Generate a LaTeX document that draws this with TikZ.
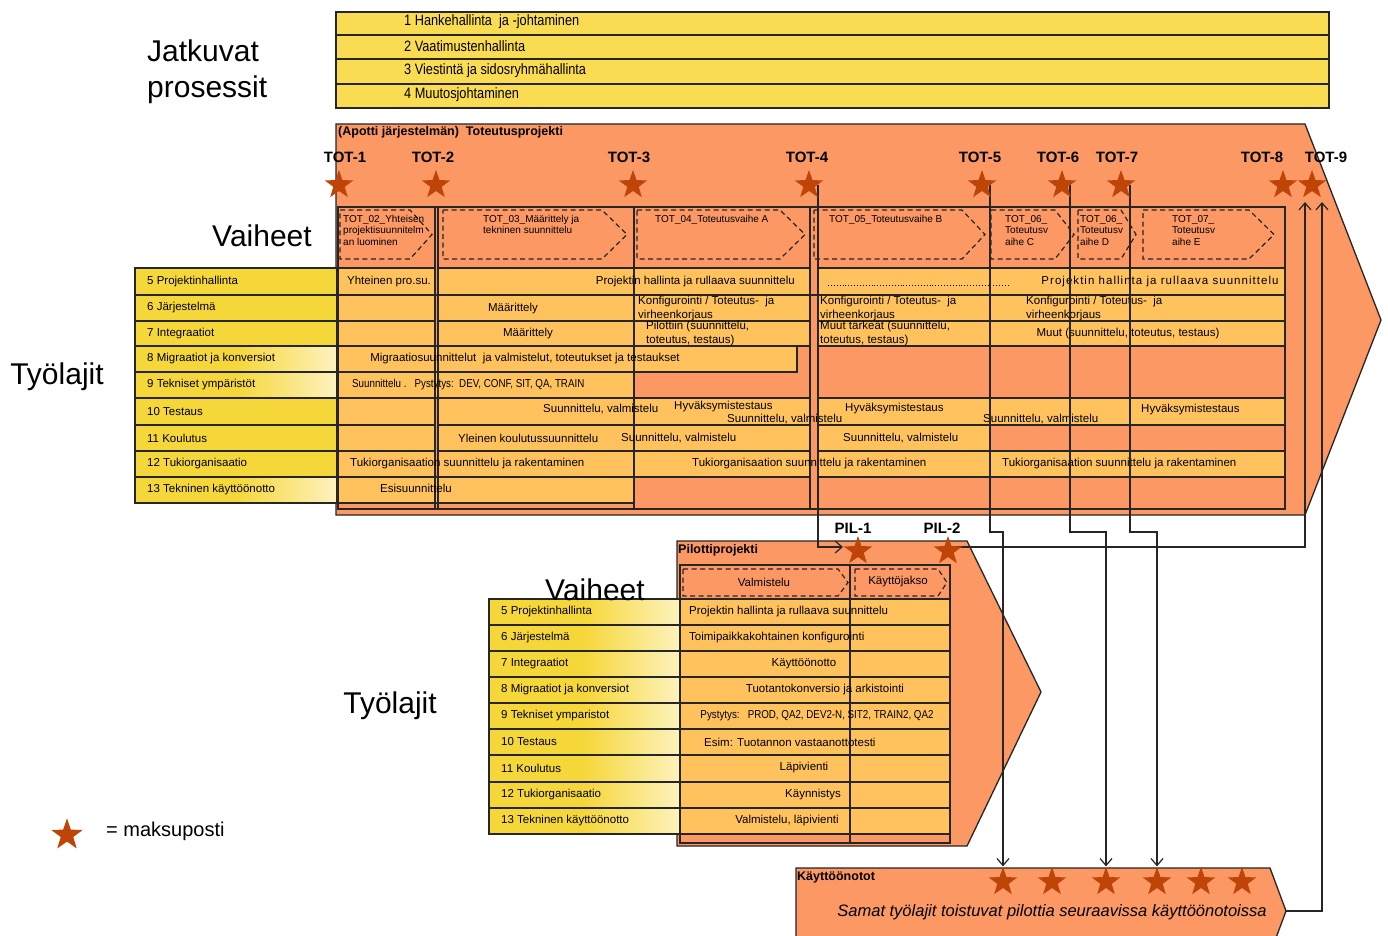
\documentclass[tikz,border=0pt]{standalone}
\usepackage{fontspec}
\setmainfont{Liberation Sans}
\newfontfamily\narrowfont[FakeStretch=0.85]{Liberation Sans}
\newfontfamily\spacedfont[LetterSpace=9]{Liberation Sans}
\usetikzlibrary{shapes.geometric,arrows.meta}
\pgfdeclarelayer{fg}
\pgfsetlayers{main,fg}
\definecolor{salmon}{RGB}{252,152,100}
\definecolor{cellor}{RGB}{255,194,92}
\definecolor{baryel}{RGB}{249,220,82}
\definecolor{lblyel}{RGB}{246,215,58}
\definecolor{lblpale}{RGB}{253,242,190}
\definecolor{starc}{RGB}{190,68,8}
\newcommand{\mychev}[5]{\draw[chevst] (#1,#4) -- (#2,#4) -- (#3,{(#4+#5)/2}) -- (#2,#5) -- (#1,#5) -- cycle;}
\newcommand{\mycell}[4]{\draw[cellst] (#1,#2) rectangle (#3,#4);}
\tikzset{
  shp/.style={draw=black!85, line width=1.3pt, fill=salmon},
  bar/.style={draw=black!85, line width=1.3pt, fill=baryel},
  lbl/.style={draw=black!85, line width=1.2pt, fill=lblyel},
  lblf/.style={draw=black!85, line width=1.2pt, left color=lblyel, right color=lblpale, middle color=lblyel},
  cellst/.style={draw=black!85, line width=1.2pt, fill=cellor},
  div/.style={draw=black!85, line width=1.3pt},
  chevst/.style={draw=black!85, line width=1.2pt, dash pattern=on 5pt off 3.5pt},
  conn/.style={draw=black!85, line width=1.2pt, -{Straight Barb[length=7pt,width=12pt]}},
  mstar/.style={star, star points=5, star point ratio=2.5, minimum size=30pt, inner sep=0pt, fill=starc, draw=none},
  big/.style={font=\fontsize{30}{36}\selectfont, inner sep=0pt},
  bartxt/.style={font=\narrowfont\fontsize{15}{17}\selectfont, inner sep=0pt, anchor=west},
  lab/.style={font=\fontsize{11.5}{13}\selectfont, inner sep=0pt, anchor=west},
  txt/.style={font=\fontsize{11.5}{13}\selectfont, inner sep=0pt},
  txtw/.style={txt, anchor=west},
  txt2/.style={font=\fontsize{11.5}{13.5}\selectfont, inner sep=0pt, anchor=north west, align=left},
  ntxt/.style={font=\narrowfont\fontsize{11.5}{13}\selectfont, inner sep=0pt},
  chevtxt/.style={font=\fontsize{10}{11.5}\selectfont, inner sep=0pt, anchor=north west, align=left},
  ttl/.style={font={\bfseries\fontsize{12.5}{14}\selectfont}, inner sep=0pt, anchor=west},
  totlab/.style={font={\bfseries\fontsize{15}{17}\selectfont}, inner sep=0pt},
}
\begin{document}
\begin{tikzpicture}[x=1pt,y=-1pt]
\useasboundingbox (0,0) rectangle (1388,936);
\fill[white] (0,0) rectangle (1388,936);
\coordinate (jy) at (0,532);

% ---------- stars (foreground layer) ----------
\begin{pgfonlayer}{fg}
\foreach \n/\x in {t1/339,t2/436,t3/633,t4/809,t5/982,t6/1062,t7/1121,t8/1283,t9/1312}
  \node[mstar] (\n) at (\x,185) {};
\node[mstar] (p1) at (858,551) {};
\node[mstar] (p2) at (948,551) {};
\foreach \n/\x in {k1/1003,k2/1052,k3/1106,k4/1157,k5/1201,k6/1242}
  \node[mstar] (\n) at (\x,882) {};
\node[mstar, minimum size=33pt] (ls) at (67,835) {};
\end{pgfonlayer}

% ---------- continuing processes ----------
\foreach \ya/\yb in {12/35,35/59,59/84,84/108}
  \draw[bar] (336,\ya) rectangle (1329,\yb);
\node[bartxt] (b1) at (404,22) {1 Hankehallinta\ \ ja -johtaminen};
\node[bartxt] (b2) at (404,46) {2 Vaatimustenhallinta};
\node[bartxt] (b3) at (404,71) {3 Viestintä\ ja sidosryhmähallinta};
\node[bartxt] (b4) at (404,95) {4 Muutosjohtaminen};
\node[big, anchor=north west, align=left] (jp) at (147,40) {Jatkuvat\\prosessit};

\node[big] (vh1) at (262,236) {Vaiheet};
\node[big] (ty1) at (57,377) {Työlajit};

% ---------- main project arrow ----------
\draw[shp] (336,124) -- (1305,124) -- (1381,320) -- (1305,515) -- (336,515) -- cycle;
\node[ttl] (tp) at (338,132) {(Apotti järjestelmän)\ \ Toteutusprojekti};
\foreach \n/\x/\t in {l1/345/TOT-1,l2/433/TOT-2,l3/629/TOT-3,l4/807/TOT-4,l5/980/TOT-5,l6/1058/TOT-6,l7/1117/TOT-7,l8/1262/TOT-8,l9/1326/TOT-9}
  \node[totlab] (\n) at (\x,157) {\t};

% label column
\draw[lbl]  (135,268) rectangle (337,295);
\draw[lbl]  (135,295) rectangle (337,321);
\draw[lbl]  (135,321) rectangle (337,346);
\draw[lblf] (135,346) rectangle (337,372);
\draw[lblf] (135,372) rectangle (337,398);
\draw[lbl]  (135,398) rectangle (337,425);
\draw[lbl]  (135,425) rectangle (337,451);
\draw[lbl]  (135,451) rectangle (337,477);
\draw[lblf] (135,477) rectangle (337,503);
\node[lab] (m5) at (147,282) {5 Projektinhallinta};
\node[lab] (m6) at (147,308) {6 Järjestelmä};
\node[lab] (m7) at (147,334) {7 Integraatiot};
\node[lab] (m8) at (147,359) {8 Migraatiot\ ja konversiot};
\node[lab] (m9) at (147,385) {9 Tekniset ympäristöt};
\node[lab] (m10) at (147,412) {10 Testaus};
\node[lab] (m11) at (147,438) {11 Koulutus};
\node[lab] (m12) at (147,464) {12 Tukiorganisaatio};
\node[lab] (m13) at (147,490) {13 Tekninen käyttöönotto};

% data cells
\mycell{337}{268}{435}{295}\mycell{438}{268}{810}{295}\mycell{818}{268}{1285}{295}
\mycell{337}{295}{435}{321}\mycell{438}{295}{634}{321}\mycell{634}{295}{810}{321}\mycell{818}{295}{1285}{321}
\mycell{337}{321}{435}{346}\mycell{438}{321}{634}{346}\mycell{634}{321}{810}{346}\mycell{818}{321}{1285}{346}
\mycell{337}{346}{797}{372}
\mycell{337}{372}{634}{398}
\mycell{337}{398}{435}{425}\mycell{438}{398}{810}{425}\mycell{818}{398}{1285}{425}
\mycell{337}{425}{435}{451}\mycell{438}{425}{810}{451}\mycell{818}{425}{990}{451}
\mycell{337}{451}{435}{477}\mycell{438}{451}{634}{477}\mycell{634}{451}{810}{477}\mycell{818}{451}{1285}{477}
\mycell{337}{477}{634}{503}
\draw[line width=2.4pt, black!85] (135,295) -- (1285,295);

% inner box and dividers
\draw[div] (338,207) rectangle (1285,509);
\foreach \x in {435,438,634,810}
  \draw[div] (\x,207) -- (\x,509);

% phases
\mychev{340}{410}{432}{210}{259}
\mychev{443}{602}{627}{210}{259}
\mychev{637}{780}{805}{210}{259}
\mychev{814}{962}{985}{210}{259}
\mychev{991}{1055}{1074}{210}{259}
\mychev{1078}{1121}{1136}{210}{259}
\mychev{1143}{1249}{1274}{210}{259}
\node[chevtxt] (c2) at (343,215) {TOT\_02\_Yhteisen\\projektisuunnitelm\\an luominen};
\node[chevtxt] (c3) at (483,215) {TOT\_03\_Määrittely ja\\tekninen suunnittelu};
\node[chevtxt] (c4) at (655,215) {TOT\_04\_Toteutusvaihe A};
\node[chevtxt] (c5) at (829,215) {TOT\_05\_Toteutusvaihe B};
\node[chevtxt] (c6) at (1005,215) {TOT\_06\_\\Toteutusv\\aihe C};
\node[chevtxt] (c7) at (1080,215) {TOT\_06\_\\Toteutusv\\aihe D};
\node[chevtxt] (c8) at (1172,215) {TOT\_07\_\\Toteutusv\\aihe E};

% row texts
\node[txt] (r5a) at (389,282) {Yhteinen pro.su.};
\node[txt, anchor=east] (r5b) at (795,282) {Projektin hallinta ja rullaava suunnittelu};
\draw[dotted, line width=0.9pt] (828,285) -- (1008,285);
\node[font=\spacedfont\fontsize{11.5}{13}\selectfont, inner sep=0pt] (r5c) at (1160,282) {Projektin hallinta ja rullaava suunnittelu};
\node[txt] (r6a) at (513,309) {Määrittely};
\node[txt2] (r6b) at (638,296) {Konfigurointi / Toteutus-\ \ ja\\virheenkorjaus};
\node[txt2] (r6c) at (820,296) {Konfigurointi / Toteutus-\ \ ja\\virheenkorjaus};
\node[txt2] (r6d) at (1026,296) {Konfigurointi / Toteutus-\ \ ja\\virheenkorjaus};
\node[txt] (r7a) at (528,334) {Määrittely};
\node[txt2] (r7b) at (646,321) {Pilottiin (suunnittelu,\\toteutus, testaus)};
\node[txt2] (r7c) at (820,321) {Muut tärkeät (suunnittelu,\\toteutus, testaus)};
\node[txt] (r7d) at (1128,334) {Muut (suunnittelu, toteutus, testaus)};
\node[txt] (r8a) at (525,359) {Migraatiosuunnittelut\ \ ja valmistelut, toteutukset ja testaukset};
\node[ntxt, anchor=west] (r9a) at (352,385) {Suunnittelu .\ \ \ Pystytys:\ \ DEV, CONF, SIT, QA, TRAIN};
\node[txtw] (r10a) at (543,409) {Suunnittelu, valmistelu};
\node[txtw] (r10b) at (674,407) {Hyväksymistestaus};
\node[txtw] (r10c) at (727,419) {Suunnittelu, valmistelu};
\node[txtw] (r10d) at (845,409) {Hyväksymistestaus};
\node[txtw] (r10e) at (983,419) {Suunnittelu, valmistelu};
\node[txtw] (r10f) at (1141,410) {Hyväksymistestaus};
\node[txtw] (r11a) at (458,438) {Yleinen koulutussuunnittelu};
\node[txtw] (r11b) at (621,438) {Suunnittelu, valmistelu};
\node[txtw] (r11c) at (843,438) {Suunnittelu, valmistelu};
\node[txtw] (r12a) at (350,464) {Tukiorganisaation suunnittelu ja rakentaminen};
\node[txtw] (r12b) at (692,464) {Tukiorganisaation suunnittelu ja rakentaminen};
\node[txtw] (r12c) at (1002,464) {Tukiorganisaation suunnittelu ja rakentaminen};
\node[txtw] (r13a) at (380,488) {Esisuunnittelu};

% ---------- pilot project ----------
\draw[shp] (677,541) -- (967,541) -- (1041,692) -- (967,846) -- (677,846) -- cycle;
\node[ttl] (pp) at (678,550) {Pilottiprojekti};
\node[totlab] (pl1) at (853,528) {PIL-1};
\node[totlab] (pl2) at (942,528) {PIL-2};
\draw[div] (680,565) rectangle (950,843);
\mychev{683}{838}{848}{569}{596}
\mychev{855}{938}{947}{569}{596}
\node[txt] (pv1) at (764,582) {Valmistelu};
\node[txt] (pv2) at (898,582) {Käyttöjakso};
\foreach \ya/\yb in {599/625,625/651,651/677,677/703,703/729,729/755,755/782,782/808,808/834}{
  \draw[lblf] (489,\ya) rectangle (680,\yb);
  \draw[cellst] (680,\ya) rectangle (950,\yb);
}
\draw[line width=2.4pt, black!85] (489,651) -- (950,651);
\draw[line width=2.2pt, black!85] (850,565) -- (850,843);
\node[lab] (q5) at (501,612) {5 Projektinhallinta};
\node[lab] (q6) at (501,638) {6 Järjestelmä};
\node[lab] (q7) at (501,664) {7 Integraatiot};
\node[lab] (q8) at (501,690) {8 Migraatiot\ ja konversiot};
\node[lab] (q9) at (501,716) {9 Tekniset ymparistot};
\node[lab] (q10) at (501,742) {10 Testaus};
\node[lab] (q11) at (501,768) {11 Koulutus};
\node[lab] (q12) at (501,795) {12 Tukiorganisaatio};
\node[lab] (q13) at (501,821) {13 Tekninen käyttöönotto};
\node[txtw] (s5) at (689,612) {Projektin hallinta ja rullaava suunnittelu};
\node[txtw] (s6) at (689,638) {Toimipaikkakohtainen konfigurointi};
\node[txt] (s7) at (804,664) {Käyttöönotto};
\node[txt] (s8) at (825,690) {Tuotantokonversio ja arkistointi};
\node[ntxt] (s9) at (817,716) {Pystytys:\ \ \ PROD, QA2, DEV2-N, SIT2, TRAIN2, QA2};
\node[txtw] (s10) at (704,742) {Esim: Tuotannon vastaanottotesti};
\node[txt] (s11) at (804,768) {Läpivienti};
\node[txt] (s12) at (813,795) {Käynnistys};
\node[txt] (s13) at (787,821) {Valmistelu, läpivienti};
\node[big] (vh2) at (595,590) {Vaiheet};
\node[big] (ty2) at (390,706) {Työlajit};

% ---------- rollouts ----------
\draw[shp] (796,868) -- (1270,868) -- (1286,911) -- (1270,954) -- (796,954) -- cycle;
\coordinate (ktip) at (1286,911);
\node[ttl] (kt) at (797,877) {Käyttöönotot};
\node[font={\itshape\fontsize{16.5}{18}\selectfont}, inner sep=0pt] (ks) at (1052,912) {Samat työlajit toistuvat pilottia seuraavissa käyttöönotoissa};

% legend
\node[font=\fontsize{20}{23}\selectfont, inner sep=0pt, anchor=west] (lt) at (106,831) {= maksuposti};

% ---------- connectors ----------
\draw[conn] ([xshift=9pt]t4.center) |- ([xshift=-15pt,yshift=4pt]p1.center);
\draw[conn] ([xshift=8pt]t5.center) |- (k1.north |- jy) -- (k1.north);
\draw[conn] ([xshift=8pt]t6.center) |- (k3.north |- jy) -- (k3.north);
\draw[conn] ([xshift=9pt]t7.center) |- (k4.north |- jy) -- (k4.north);
\draw[conn] ([yshift=4pt]p2.center) -| ([xshift=-7pt,yshift=-17pt]t9.center);
\draw[conn] (ktip) -| ([xshift=10pt,yshift=-17pt]t9.center);
\end{tikzpicture}
\end{document}
